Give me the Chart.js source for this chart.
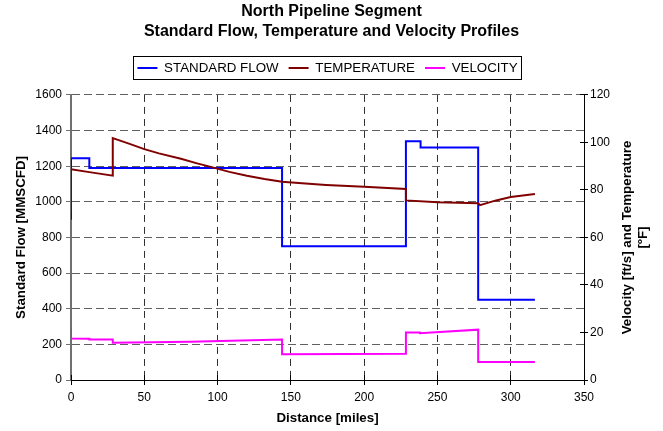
<!DOCTYPE html>
<html><head><meta charset="utf-8">
<script src="https://cdn.jsdelivr.net/npm/chart.js@4.4.0/dist/chart.umd.min.js"></script>
<style>html,body{margin:0;padding:0;background:#fff}#wrap{width:663px;height:431px;position:relative}</style>
</head><body><div id="wrap"><canvas id="c"></canvas></div>
<script>
const chartTitle = ['North Pipeline Segment', 'Standard Flow, Temperature and Velocity Profiles'];
const seriesNames = ['STANDARD FLOW', 'TEMPERATURE', 'VELOCITY'];
const xTitle = 'Distance [miles]';
const yTitle = 'Standard Flow [MMSCFD]';
const y1Title = ['Velocity [ft/s] and Temperature', '[\u00baF]'];

const flowDist = [0, 0, 12.5, 12.5, 144, 144, 228.5, 228.5, 238.5, 238.5, 277.8, 277.8, 316.5];
const flowVal  = [900, 1245, 1245, 1190, 1190, 750, 750, 1340, 1340, 1305, 1305, 450, 450];

const tempDist = [0, 0, 12.5, 28.5, 28.5, 40, 50, 60, 75, 86, 96, 108, 120, 132, 144, 160, 174, 200, 228.5, 228.5, 250, 277.8, 279, 290, 300, 316.5];
const tempVal  = [70.9, 88.7, 87.5, 86.0, 101.8, 99.4, 97.2, 95.4, 93.1, 91.2, 89.6, 87.6, 86.0, 84.6, 83.5, 82.7, 82.1, 81.3, 80.4, 75.6, 74.8, 74.4, 73.6, 75.6, 77.0, 78.3];

const velDist = [0, 0, 12.5, 12.5, 28.5, 28.5, 81, 144, 144, 228.5, 228.5, 238, 238, 277.8, 277.8, 316.5];
const velVal  = [21.7, 17.5, 17.4, 17.1, 17.1, 15.7, 16.1, 17.0, 10.8, 11.1, 20.0, 20.0, 19.7, 21.2, 7.6, 7.6];

const xRange = [0, 350, 50];
const yRange = [0, 1600, 200];
const y1Range = [0, 120, 20];

const toPts = (xs, ys) => xs.map((x, i) => ({x: x, y: ys[i]}));

Chart.defaults.font.family = '"Liberation Sans", Arial, sans-serif';
Chart.defaults.color = '#000';

const alignPx = p => Math.round(p - 0.5) + 0.5;

const extras = {
  id: 'extras',
  afterDraw(chart) {
    const {ctx, chartArea: a, scales: {x, y, y1}} = chart;
    ctx.save();
    ctx.lineWidth = 1;
    ctx.setLineDash([]);
    ctx.strokeStyle = '#000';
    ctx.beginPath();
    x.ticks.forEach(t => { const px = alignPx(x.getPixelForValue(t.value)); ctx.moveTo(px, a.bottom - 5); ctx.lineTo(px, a.bottom + 5); });
    y1.ticks.forEach(t => { const py = alignPx(y1.getPixelForValue(t.value)); ctx.moveTo(a.right - 4, py); ctx.lineTo(a.right + 4, py); });
    ctx.stroke();
    ctx.strokeStyle = '#707070';
    ctx.beginPath();
    y.ticks.forEach(t => { const py = alignPx(y.getPixelForValue(t.value)); ctx.moveTo(a.left - 5, py); ctx.lineTo(a.left, py); });
    ctx.stroke();

    // right axis title (reads bottom to top)
    ctx.fillStyle = '#000';
    ctx.font = 'bold 13.33px "Liberation Sans", Arial, sans-serif';
    ctx.textAlign = 'center';
    ctx.textBaseline = 'middle';
    const cy = (a.top + a.bottom) / 2;
    y1Title.forEach((line, i) => {
      ctx.save();
      ctx.translate(627 + i * 16, cy);
      ctx.rotate(-Math.PI / 2);
      ctx.fillText(line, 0, 0);
      ctx.restore();
    });

    // legend frame
    const hb = chart.legend.legendHitBoxes;
    if (hb && hb.length) {
      const first = hb[0], last = hb[hb.length - 1];
      const x1 = Math.round(first.left - 4) + 0.5;
      const x2 = Math.round(last.left + last.width + 3) + 0.5;
      const yc = first.top + first.height / 2;
      const y1p = Math.round(yc - 11.5) + 0.5, y2p = Math.round(yc + 11.5) + 0.5;
      ctx.strokeStyle = '#000';
      ctx.strokeRect(x1, y1p, x2 - x1, y2p - y1p);
    }
    ctx.restore();
  }
};

new Chart(document.getElementById('c'), {
  type: 'line',
  data: {
    datasets: [
      { label: seriesNames[0], data: toPts(flowDist, flowVal), yAxisID: 'y', borderColor: '#0000ff', backgroundColor: '#0000ff', borderWidth: 2, pointRadius: 0, tension: 0, order: 3 },
      { label: seriesNames[1], data: toPts(tempDist, tempVal), yAxisID: 'y1', borderColor: '#800000', backgroundColor: '#800000', borderWidth: 2, pointRadius: 0, tension: 0, order: 2 },
      { label: seriesNames[2], data: toPts(velDist, velVal), yAxisID: 'y1', borderColor: '#ff00ff', backgroundColor: '#ff00ff', borderWidth: 2, pointRadius: 0, tension: 0, order: 1 }
    ]
  },
  options: {
    responsive: true,
    maintainAspectRatio: false,
    animation: false,
    devicePixelRatio: 1,
    layout: { padding: 0 },
    plugins: {
      tooltip: { enabled: false },
      title: {
        display: true, text: chartTitle, color: '#000',
        font: { size: 16, weight: 'bold', lineHeight: 1.2 },
        padding: { top: 2.4, bottom: 10.5 }
      },
      legend: {
        display: true, position: 'top', fullSize: false,
        labels: {
          usePointStyle: true, pointStyle: 'line', pointStyleWidth: 20,
          font: { size: 13.33 }, color: '#000', padding: 10,
          sort: (a, b) => a.datasetIndex - b.datasetIndex
        }
      },
      subtitle: {
        display: true, text: '', weight: 500,
        font: { size: 10.3, lineHeight: 1 }, padding: 0
      }
    },
    scales: {
      x: {
        type: 'linear', position: 'bottom', min: xRange[0], max: xRange[1],
        ticks: { stepSize: xRange[2], padding: 10, font: { size: 12 }, color: '#000', maxRotation: 0, callback: v => String(v) },
        grid: { color: c => (c.tick && (c.tick.value === xRange[0] || c.tick.value === xRange[1])) ? 'rgba(0,0,0,0)' : '#303030', lineWidth: 1, drawTicks: false },
        border: { display: true, color: '#000', width: 1, dash: [7, 5] },
        title: { display: true, text: xTitle, font: { size: 13.33, weight: 'bold' }, padding: { top: 0, bottom: 5 } },
        afterFit: s => { s.height = 51; }
      },
      y: {
        type: 'linear', position: 'left', min: yRange[0], max: yRange[1],
        ticks: { stepSize: yRange[2], padding: 9, font: { size: 12 }, color: '#000', callback: v => String(v) },
        grid: { color: c => (c.tick && c.tick.value === yRange[0]) ? 'rgba(0,0,0,0)' : '#606060', lineWidth: 1, drawTicks: false },
        border: { display: true, color: '#707070', width: 2, dash: [8, 4] },
        title: { display: true, text: yTitle, font: { size: 13.33, weight: 'bold' }, padding: { top: 13.7, bottom: 0 } },
        afterFit: s => { s.width = 71; }
      },
      y1: {
        type: 'linear', position: 'right', min: y1Range[0], max: y1Range[1],
        ticks: { stepSize: y1Range[2], padding: 6, font: { size: 12 }, color: '#000', callback: v => String(v) },
        grid: { drawOnChartArea: false, drawTicks: false },
        border: { display: true, color: '#000', width: 1 },
        afterFit: s => { s.width = 79; }
      }
    }
  },
  plugins: [extras]
});
</script>
</body></html>
